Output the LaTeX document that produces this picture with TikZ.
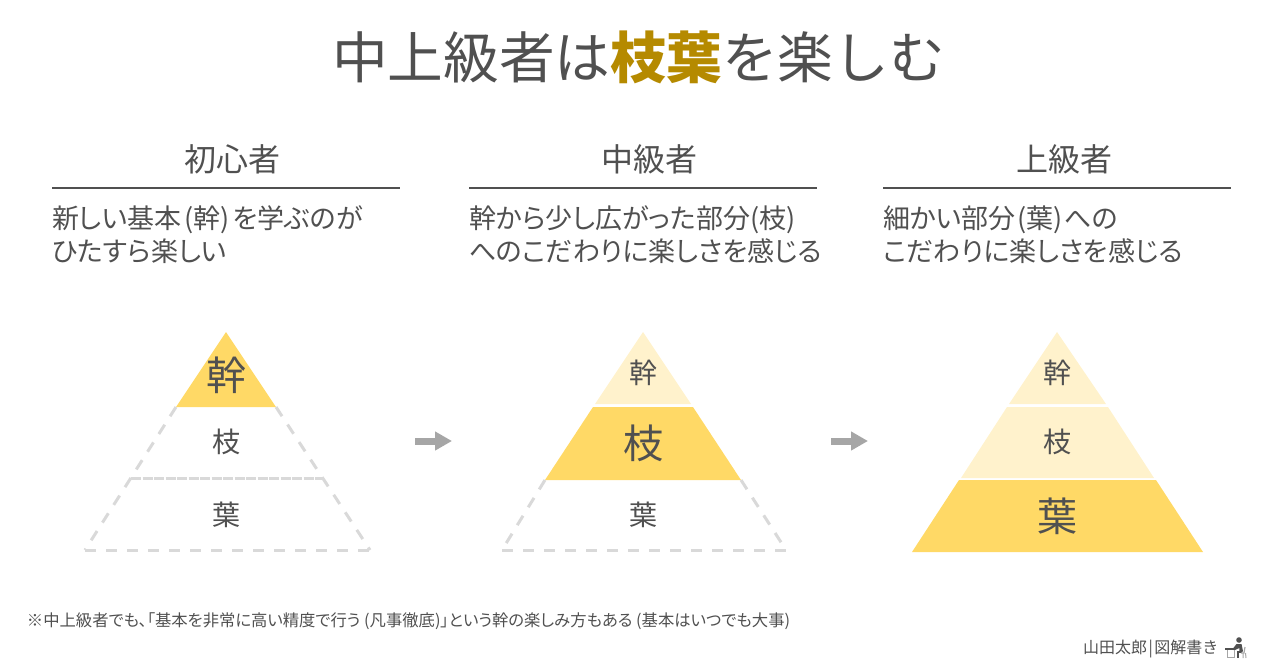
\documentclass[tikz,border=0pt]{standalone}
\usepackage{fontspec}
\setmainfont{Noto Sans CJK JP}
\newfontfamily\paltfont{Noto Sans CJK JP}[RawFeature=+palt]
\usetikzlibrary{arrows.meta,positioning}
\definecolor{inktext}{HTML}{505050}
\definecolor{goldtext}{HTML}{B58A00}
\definecolor{strongfill}{HTML}{FFD966}
\definecolor{palefill}{HTML}{FFF2CC}
\definecolor{dashgray}{HTML}{D9D9D9}
\definecolor{arrowgray}{HTML}{A6A6A6}
\tikzset{
  every node/.style={text=inktext, inner sep=0pt, outer sep=0pt},
  headtext/.style={font=\fontsize{32}{32}\selectfont, anchor=center},
  bodytext/.style={font=\paltfont\fontsize{27}{33}\selectfont, anchor=north west, align=left},
  bigword/.style={font=\fontsize{40}{40}\selectfont},
  smallword/.style={font=\fontsize{28}{28}\selectfont},
  headrule/.style={draw=inktext, line width=1.5pt},
  emptypart/.style={draw=dashgray, line width=3pt, dash pattern=on 11pt off 10pt},
  splitline/.style={draw=dashgray, line width=3pt, dash pattern=on 10pt off 1.5pt},
  strongpart/.style={fill=strongfill},
  palepart/.style={fill=palefill},
  stepline/.style={draw=arrowgray, line width=7pt, -{Triangle[length=17pt,width=18pt]}},
}
\begin{document}
\begin{tikzpicture}[x=1pt,y=-1pt]
  \useasboundingbox (0,0) rectangle (1280,670);
  % title
  \node (title) at (638.5,57) {\fontsize{55.7}{55.7}\selectfont 中上級者は{\color{goldtext}\bfseries 枝葉}を楽しむ};
  % headers
  \node[headtext] (beginner) at (232,159) {初心者};
  \node[headtext] (middle) at (649,159) {中級者};
  \node[headtext] (expert) at (1064,159) {上級者};
  \coordinate (r1a) at (52,188);
  \coordinate (r1b) at (400,188);
  \coordinate (r2a) at (469,188);
  \coordinate (r2b) at (817,188);
  \coordinate (r3a) at (883,188);
  \coordinate (r3b) at (1231,188);
  \draw[headrule] (r1a) -- (r1b);
  \draw[headrule] (r2a) -- (r2b);
  \draw[headrule] (r3a) -- (r3b);
  \node[bodytext] (text1) at (52,205.5) {新しい基本\kern3pt(幹)\kern3pt を学ぶのが\\ひたすら楽しい};
  \node[bodytext] (text2) at (469,205.5) {幹から少し広がった部分(枝)\\へのこだわりに楽しさを感じる};
  \node[bodytext] (text3) at (883,205.5) {細かい部分\kern2pt(葉)\kern2pt への\\こだわりに楽しさを感じる};
  % first pyramid
  \fill[strongpart] (226,332) -- (276,407) -- (176,407) -- cycle;
  \draw[emptypart] (276,407) -- (370,550);
  \draw[emptypart] (176,407) -- (85,550);
  \draw[emptypart] (85,550) -- (370,550);
  \draw[splitline] (131,478) -- (323,478);
  \node[bigword] (trunk1) at (226,375) {幹};
  \node[smallword] (branch1) at (226,442) {枝};
  \node[smallword] (leaf1) at (226,515) {葉};
  % second pyramid
  \fill[palepart] (643,332) -- (691,404) -- (595,404) -- cycle;
  \fill[strongpart] (593,407) -- (693,407) -- (741,480) -- (545,480) -- cycle;
  \draw[emptypart] (741,480) -- (786,550);
  \draw[emptypart] (545,480) -- (502,550);
  \draw[emptypart] (502,550) -- (786,550);
  \node[smallword] (trunk2) at (643,373) {幹};
  \node[bigword] (branch2) at (643,443) {枝};
  \node[smallword] (leaf2) at (643,515) {葉};
  % third pyramid
  \fill[palepart] (1057,332) -- (1106,404) -- (1009,404) -- cycle;
  \fill[palepart] (1007,407) -- (1108,407) -- (1154,478) -- (961,478) -- cycle;
  \fill[strongpart] (959,480) -- (1156,480) -- (1203,552) -- (912,552) -- cycle;
  \node[smallword] (trunk3) at (1057,373) {幹};
  \node[smallword] (branch3) at (1057,442) {枝};
  \node[bigword] (leaf3) at (1057,516) {葉};
  % arrows
  \coordinate (a1a) at (415,441);
  \coordinate (a1b) at (452,441);
  \coordinate (a2a) at (831,441);
  \coordinate (a2b) at (868,441);
  \draw[stepline] (a1a) -- (a1b);
  \draw[stepline] (a2a) -- (a2b);
  % footer
  \node[anchor=west] (note) at (27,621) {\paltfont\fontsize{16.33}{16.33}\selectfont ※中上級者でも、「基本を非常に高い精度で行う (凡事徹底)」という幹の楽しみ方もある (基本はいつでも大事)};
  \node[anchor=west] (credit) at (1083,649) {\fontsize{16}{16}\selectfont 山田太郎\kern1.5pt|\kern1.5pt 図解書き};
  % desk icon
  \fill[inktext] (1239,640) circle (2.8);
  \fill[inktext] (1236.5,644) -- (1241.5,644) -- (1243,651) -- (1241,653) -- (1239.5,652) -- (1239.3,648) -- (1234,650.5) -- (1233,648.5) -- cycle;
  \draw[inktext, line width=1.6pt] (1242,652) -- (1238,652) -- (1238,658);
  \fill[inktext] (1225,647.5) rectangle (1235,650);
  \draw[arrowgray, line width=1pt] (1227,650) -- (1227,657) -- (1234.5,657) -- (1234.5,650);
  \draw[arrowgray, line width=1.2pt] (1245,647) -- (1244,653) -- (1241,653);
  \draw[arrowgray, line width=1pt] (1243,653) -- (1243,658) (1245.5,653) -- (1246,658);
\end{tikzpicture}
\end{document}
